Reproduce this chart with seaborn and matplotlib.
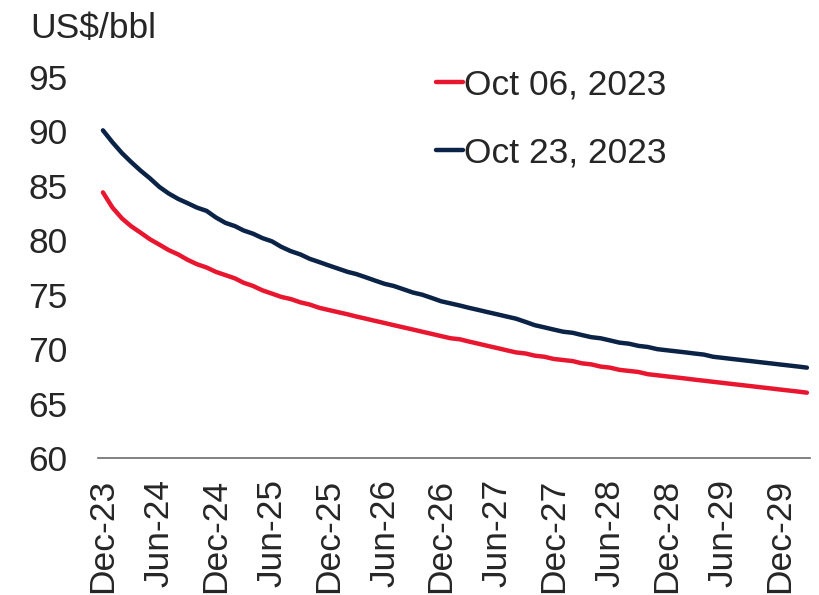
import numpy as np
import pandas as pd
import matplotlib
matplotlib.use("Agg")
import matplotlib.pyplot as plt
import matplotlib.dates as mdates
import seaborn as sns

# monthly contract dates, Dec-23 .. Mar-30
months = pd.date_range("2023-12-01", periods=76, freq="MS")

# Brent forward curve, US$/bbl
oct06 = [84.4, 83.0, 82.0, 81.3, 80.7, 80.1, 79.6, 79.1, 78.7, 78.2, 77.8, 77.5,
         77.1, 76.8, 76.5, 76.1, 75.8, 75.4, 75.1, 74.8, 74.6, 74.3, 74.1, 73.8,
         73.6, 73.4, 73.2, 73.0, 72.8, 72.6, 72.4, 72.2, 72.0, 71.8, 71.6, 71.4,
         71.2, 71.0, 70.9, 70.7, 70.5, 70.3, 70.1, 69.9, 69.7, 69.6, 69.4, 69.3,
         69.1, 69.0, 68.9, 68.7, 68.6, 68.4, 68.3, 68.1, 68.0, 67.9, 67.7, 67.6,
         67.5, 67.4, 67.3, 67.2, 67.1, 67.0, 66.9, 66.8, 66.7, 66.6, 66.5, 66.4,
         66.3, 66.2, 66.1, 66.0]
oct23 = [90.1, 89.0, 88.0, 87.2, 86.4, 85.7, 84.9, 84.3, 83.8, 83.4, 83.0, 82.7,
         82.1, 81.6, 81.3, 80.9, 80.6, 80.2, 79.9, 79.4, 79.0, 78.7, 78.3, 78.0,
         77.7, 77.4, 77.1, 76.9, 76.6, 76.3, 76.0, 75.8, 75.5, 75.2, 75.0, 74.7,
         74.4, 74.2, 74.0, 73.8, 73.6, 73.4, 73.2, 73.0, 72.8, 72.5, 72.2, 72.0,
         71.8, 71.6, 71.5, 71.3, 71.1, 71.0, 70.8, 70.6, 70.5, 70.3, 70.2, 70.0,
         69.9, 69.8, 69.7, 69.6, 69.5, 69.3, 69.2, 69.1, 69.0, 68.9, 68.8, 68.7,
         68.6, 68.5, 68.4, 68.3]

labels = ["Oct 06, 2023", "Oct 23, 2023"]
palette = {"Oct 06, 2023": "#E8172F", "Oct 23, 2023": "#0B2346"}

df = pd.DataFrame({
    "date": list(months) * 2,
    "price": oct06 + oct23,
    "curve": [labels[0]] * len(months) + [labels[1]] * len(months),
})

sns.set_theme(style="white")
plt.rcParams["font.family"] = ["Liberation Sans", "DejaVu Sans"]
fs = 25.5

fig = plt.figure(figsize=(8.2, 5.95), dpi=100)
ax = fig.add_axes([98 / 820, 1 - 458 / 595, 712 / 820, (458 - 77) / 595])

sns.lineplot(data=df, x="date", y="price", hue="curve", palette=palette,
             linewidth=3.2, ax=ax)

ax.set_ylim(60, 95)
ax.set_yticks(range(60, 96, 5))
ax.set_xlim(months[0] - pd.Timedelta(days=16), months[-1] + pd.Timedelta(days=10))
ax.xaxis.set_major_locator(mdates.MonthLocator(bymonth=[6, 12]))
ax.xaxis.set_major_formatter(mdates.DateFormatter("%b-%y"))
ax.tick_params(axis="x", length=0, pad=15, labelsize=fs, labelrotation=90)
ax.tick_params(axis="y", length=0, pad=22, labelsize=fs)
ax.set_xlabel("")
ax.set_ylabel("")

for side in ["left", "right", "top"]:
    ax.spines[side].set_visible(False)
ax.spines["bottom"].set_color("#6b6b6b")
ax.spines["bottom"].set_linewidth(1.2)

fig.text(30 / 820, 1 - 28 / 595, "US$/bbl", fontsize=fs, va="center", ha="left")

ax.legend(title=None, frameon=False, fontsize=fs, loc="center left",
          bbox_to_anchor=(436 / 820, 1 - 119 / 595), bbox_transform=fig.transFigure,
          borderaxespad=0, borderpad=0, handlelength=0.75, handletextpad=0.05,
          labelspacing=1.0)

fig.savefig("out.png", dpi=100)
